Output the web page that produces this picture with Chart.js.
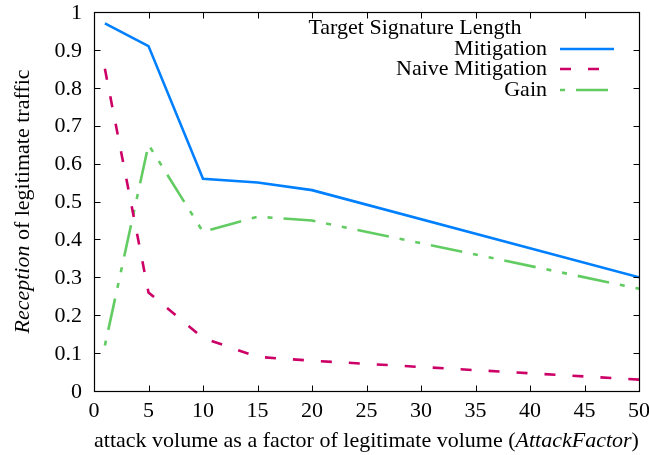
<!DOCTYPE html>
<html>
<head>
<meta charset="utf-8">
<script src="https://cdn.jsdelivr.net/npm/chart.js@4/dist/chart.umd.min.js"></script>
<style>
  html, body { margin: 0; padding: 0; background: #fff; }
  #wrap { width: 649px; height: 455px; }
</style>
</head>
<body>
<div id="wrap"><canvas id="c" width="649" height="455"></canvas></div>
<script>
// Reception of legitimate traffic vs. attack factor
const attackFactors = [1, 5, 10, 15, 20, 50];
const mitigation = [0.97, 0.91, 0.56, 0.55, 0.53, 0.30];
const naiveMitigation = [0.85, 0.26, 0.14, 0.09, 0.08, 0.03];
const gain = [0.12, 0.65, 0.42, 0.46, 0.45, 0.27];

const xTicks = [0, 5, 10, 15, 20, 25, 30, 35, 40, 45, 50];
const yTicks = [0, 0.1, 0.2, 0.3, 0.4, 0.5, 0.6, 0.7, 0.8, 0.9, 1];
const xTickLabels = ['0', '5', '10', '15', '20', '25', '30', '35', '40', '45', '50'];
const yTickLabels = ['0', '0.1', '0.2', '0.3', '0.4', '0.5', '0.6', '0.7', '0.8', '0.9', '1'];

const seriesNames = ['Mitigation', 'Naive Mitigation', 'Gain'];
const legendTitle = 'Target Signature Length';

const FONT = '"Liberation Serif", "DejaVu Serif", serif';
const FS = 22;

function pts(ys) {
  return attackFactors.map((x, i) => ({ x: x, y: ys[i] }));
}

// frame, inward ticks on all four sides, tick labels, key and axis titles
const gnuplotFrame = {
  id: 'gnuplotFrame',
  afterDatasetsDraw(chart) {
    const { ctx, chartArea: a, scales } = chart;
    const L = Math.round(a.left) + 0.5, R = Math.round(a.right) + 0.5;
    const T = Math.round(a.top) + 0.5, B = Math.round(a.bottom) + 0.5;
    const tl = 6;
    const fnt = it => (it ? 'italic ' : '') + FS + 'px ' + FONT;
    ctx.save();
    ctx.strokeStyle = '#000';
    ctx.fillStyle = '#000';
    ctx.lineWidth = 1;
    ctx.beginPath();
    xTicks.forEach(v => {
      const px = Math.round(scales.x.getPixelForValue(v)) + 0.5;
      ctx.moveTo(px, B); ctx.lineTo(px, B - tl);
      ctx.moveTo(px, T); ctx.lineTo(px, T + tl);
    });
    yTicks.forEach(v => {
      const py = Math.round(scales.y.getPixelForValue(v)) + 0.5;
      ctx.moveTo(L, py); ctx.lineTo(L + tl, py);
      ctx.moveTo(R, py); ctx.lineTo(R - tl, py);
    });
    ctx.stroke();
    ctx.lineWidth = 1.2;
    ctx.strokeRect(L, T, R - L, B - T);

    // tick labels
    ctx.font = fnt(false);
    ctx.textBaseline = 'middle';
    ctx.textAlign = 'center';
    xTicks.forEach((v, i) => {
      ctx.fillText(xTickLabels[i], scales.x.getPixelForValue(v), a.bottom + 20);
    });
    ctx.textAlign = 'right';
    yTicks.forEach((v, i) => {
      ctx.fillText(yTickLabels[i], a.left - 12, scales.y.getPixelForValue(v) + 1);
    });

    // key
    ctx.textAlign = 'center';
    ctx.fillText(legendTitle, 415, 28);
    const rows = [49, 69, 90];
    chart.data.datasets.forEach((ds, i) => {
      ctx.textAlign = 'right';
      ctx.fillStyle = '#000';
      ctx.fillText(ds.label, 547, rows[i]);
      ctx.save();
      ctx.strokeStyle = ds.borderColor;
      ctx.lineWidth = ds.borderWidth;
      ctx.setLineDash(ds.borderDash || []);
      ctx.lineDashOffset = ds.borderDashOffset || 0;
      ctx.beginPath();
      ctx.moveTo(560, rows[i]);
      ctx.lineTo(614, rows[i]);
      ctx.stroke();
      ctx.restore();
    });

    // x axis title
    const cx = (a.left + a.right) / 2;
    const parts = [
      { t: 'attack volume as a factor of legitimate volume (', it: false },
      { t: 'AttackFactor', it: true },
      { t: ')', it: false }
    ];
    let w = 0;
    parts.forEach(p => { ctx.font = fnt(p.it); p.w = ctx.measureText(p.t).width; w += p.w; });
    let x0 = cx - w / 2;
    ctx.textAlign = 'left';
    parts.forEach(p => { ctx.font = fnt(p.it); ctx.fillText(p.t, x0, 441); x0 += p.w; });

    // y axis title
    const cy = (a.top + a.bottom) / 2;
    ctx.translate(23, cy);
    ctx.rotate(-Math.PI / 2);
    const yparts = [
      { t: 'Reception', it: true },
      { t: ' of legitimate traffic', it: false }
    ];
    w = 0;
    yparts.forEach(p => { ctx.font = fnt(p.it); p.w = ctx.measureText(p.t).width; w += p.w; });
    x0 = -w / 2;
    yparts.forEach(p => { ctx.font = fnt(p.it); ctx.fillText(p.t, x0, 0); x0 += p.w; });
    ctx.restore();
  }
};

new Chart(document.getElementById('c'), {
  type: 'line',
  data: {
    datasets: [
      {
        label: seriesNames[0],
        data: pts(mitigation),
        borderColor: '#0080ff',
        borderWidth: 2.6,
        pointRadius: 0,
        tension: 0
      },
      {
        label: seriesNames[1],
        data: pts(naiveMitigation),
        borderColor: '#cc0066',
        borderWidth: 2.6,
        borderDash: [11, 17],
        pointRadius: 0,
        tension: 0
      },
      {
        label: seriesNames[2],
        data: pts(gain),
        borderColor: '#62cc62',
        borderWidth: 2.6,
        borderDash: [32, 11, 5, 11, 5, 11],
        borderDashOffset: 59,
        pointRadius: 0,
        tension: 0
      }
    ]
  },
  plugins: [gnuplotFrame],
  options: {
    responsive: false,
    animation: false,
    events: [],
    layout: { padding: { top: 12, right: 10, left: 0, bottom: 0 } },
    plugins: { legend: { display: false }, tooltip: { enabled: false }, title: { display: false } },
    scales: {
      x: {
        type: 'linear',
        min: 0,
        max: 50,
        afterBuildTicks: s => { s.ticks = xTicks.map(v => ({ value: v })); },
        afterFit: s => { s.height = 64; },
        grid: { display: false },
        border: { display: false },
        ticks: { display: false }
      },
      y: {
        type: 'linear',
        min: 0,
        max: 1,
        afterBuildTicks: s => { s.ticks = yTicks.map(v => ({ value: v })); },
        afterFit: s => { s.width = 94; },
        grid: { display: false },
        border: { display: false },
        ticks: { display: false }
      }
    }
  }
});
</script>
</body>
</html>
